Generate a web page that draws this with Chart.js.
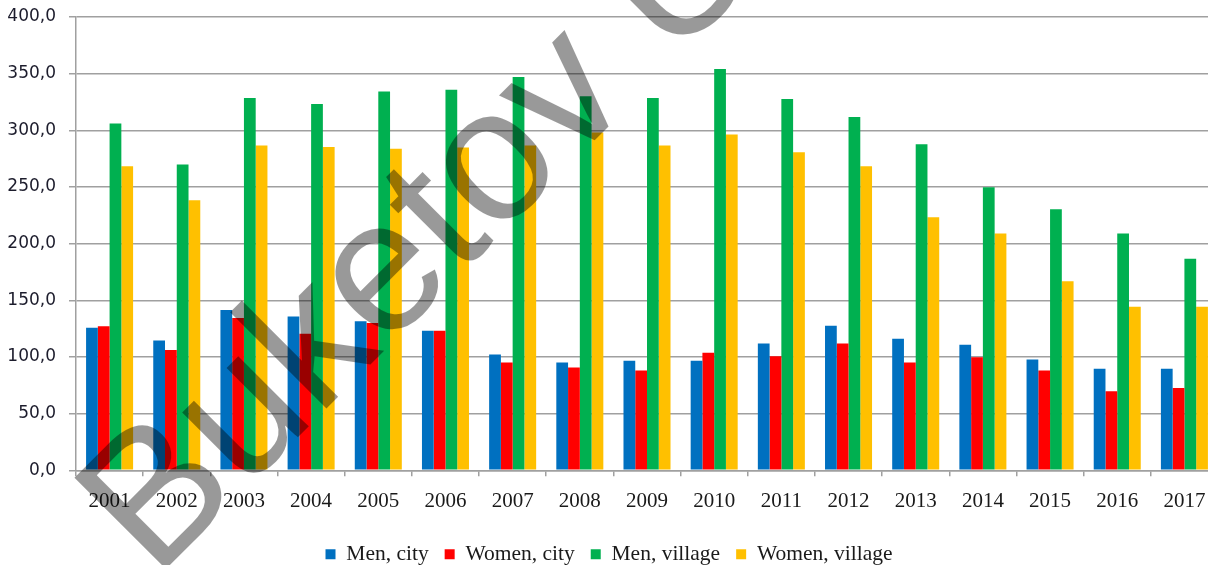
<!DOCTYPE html>
<html>
<head>
<meta charset="utf-8">
<script src="https://cdn.jsdelivr.net/npm/chart.js@4/dist/chart.umd.min.js"></script>
<style>
  html, body { margin: 0; padding: 0; background: #fff; overflow: hidden; }
  #wrap { width: 1220px; height: 565px; }
</style>
</head>
<body>
<div id="wrap"><canvas id="chart" width="1220" height="565"></canvas></div>
<script>
// data
const years = ['2001', '2002', '2003', '2004', '2005', '2006', '2007', '2008', '2009',
  '2010', '2011', '2012', '2013', '2014', '2015', '2016', '2017'];
const menCity = [125.8, 114.6, 141.5, 135.8, 131.6, 123.2, 102.2, 95.1, 96.6,
  96.6, 111.9, 127.5, 116.0, 110.8, 97.8, 89.5, 89.5];
const womenCity = [127.2, 106.2, 134.3, 120.5, 129.9, 123.2, 95.1, 90.7, 88.0,
  103.7, 100.7, 111.9, 95.1, 99.8, 88.0, 69.7, 72.7];
const menVillage = [306.1, 269.8, 328.6, 323.2, 334.3, 335.9, 347.0, 330.0, 328.6,
  354.2, 327.7, 311.7, 287.8, 249.8, 230.3, 209.0, 186.6];
const womenVillage = [268.4, 238.4, 286.6, 285.2, 283.7, 284.8, 286.6, 298.1, 286.6,
  296.4, 280.7, 268.4, 223.2, 209.0, 166.8, 144.4, 144.4];
const seriesNames = ['Men, city', 'Women, city', 'Men, village', 'Women, village'];
const yTicks = [0, 50, 100, 150, 200, 250, 300, 350, 400];

const colors = ['#0070C0', '#FF0000', '#00B050', '#FFC000'];
const gridColor = '#a0a0a0';

// big grey watermark over the picture
const watermark = {
  id: 'watermark',
  afterDraw(chart) {
    const ctx = chart.ctx;
    ctx.save();
    ctx.translate(155, 580);
    ctx.rotate(-45 * Math.PI / 180);
    ctx.font = '188px "Liberation Sans", Arial, sans-serif';
    ctx.fillStyle = 'rgba(0,0,0,0.4)';
    ctx.textBaseline = 'alphabetic';
    ctx.fillText('Buketov University', 0, 0);
    ctx.restore();
  }
};

const allSeries = [menCity, womenCity, menVillage, womenVillage];

new Chart(document.getElementById('chart'), {
  type: 'bar',
  data: {
    labels: years,
    datasets: allSeries.map((vals, i) => ({
      label: seriesNames[i],
      data: vals,
      backgroundColor: colors[i],
      borderWidth: 0,
      categoryPercentage: 0.7,
      barPercentage: 1.0
    }))
  },
  options: {
    responsive: false,
    animation: false,
    devicePixelRatio: 1,
    layout: { padding: { top: 17, right: 2, left: 0, bottom: -10 } },
    plugins: {
      legend: {
        position: 'bottom',
        labels: {
          boxWidth: 10,
          boxHeight: 10,
          padding: 16,
          color: '#1a1a1a',
          font: { family: '"Liberation Serif", "Times New Roman", serif', size: 21.5 }
        }
      },
      tooltip: { enabled: false }
    },
    scales: {
      x: {
        grid: {
          display: true,
          drawOnChartArea: false,
          drawTicks: true,
          tickLength: 6,
          color: gridColor,
          lineWidth: 1.5
        },
        border: { display: true, color: gridColor, width: 1.5 },
        ticks: {
          color: '#1a1a1a',
          padding: 13,
          maxRotation: 0,
          autoSkip: false,
          font: { family: '"Liberation Serif", "Times New Roman", serif', size: 21 }
        }
      },
      y: {
        min: 0,
        max: 400,
        afterBuildTicks(scale) {
          scale.ticks = yTicks.map(v => ({ value: v }));
        },
        afterFit(scale) {
          scale.width = 76;
          scale.paddingTop = 0;
          scale.paddingBottom = 0;
        },
        grid: {
          color: gridColor,
          lineWidth: 1.5,
          tickLength: 7
        },
        border: { display: true, color: gridColor, width: 1.5 },
        ticks: {
          color: '#1c1c2c',
          padding: 13,
          font: { family: '"DejaVu Sans", Verdana, sans-serif', size: 17 },
          callback: v => v.toFixed(1).replace('.', ',')
        }
      }
    }
  },
  plugins: [watermark]
});
</script>
</body>
</html>
